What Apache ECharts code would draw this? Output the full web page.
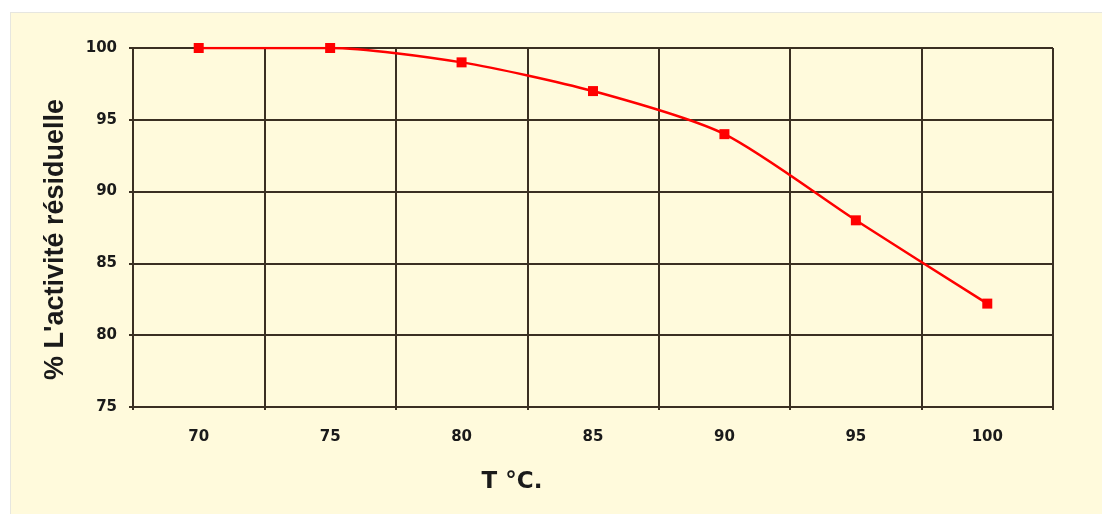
<!DOCTYPE html>
<html>
<head>
<meta charset="utf-8">
<script src="https://cdn.jsdelivr.net/npm/echarts@6/dist/echarts.min.js"></script>
<style>
  html, body { margin: 0; padding: 0; background: #ffffff; }
  #frame {
    position: absolute; left: 10px; top: 12px; width: 1092px; height: 502px;
    background: #fffadc; border-left: 1px solid #e6e6e0; border-top: 1px solid #e6e6e0;
    box-sizing: border-box;
  }
  #chart { position: absolute; left: 0; top: 0; width: 1102px; height: 518px; }
</style>
</head>
<body>
<div id="frame"></div>
<div id="chart"></div>
<script>
// température (°C) et activité résiduelle (%)
const temperatures = ['70', '75', '80', '85', '90', '95', '100'];
const activite = [100, 100, 99, 97, 94, 88, 82.2];

const chart = echarts.init(document.getElementById('chart'));

const gridColor = '#3a2f22';
const textColor = '#1a1a1a';

const option = {
  backgroundColor: 'transparent',
  animation: false,
  grid: { left: 133, right: 49, top: 48, bottom: 111 },
  xAxis: {
    type: 'category',
    data: temperatures,
    boundaryGap: true,
    name: 'T °C.',
    nameLocation: 'middle',
    nameGap: 64,
    nameTextStyle: {
      fontFamily: 'DejaVu Sans', fontWeight: 'bold', fontSize: 23, color: textColor,
      padding: [0, 162, 0, 0]
    },
    axisLine: { show: true, lineStyle: { color: gridColor, width: 2 } },
    axisTick: { show: true, length: 3, lineStyle: { color: gridColor, width: 2 } },
    axisLabel: {
      margin: 23, fontFamily: 'DejaVu Sans', fontWeight: 'bold', fontSize: 15, color: textColor
    },
    splitLine: { show: true, lineStyle: { color: gridColor, width: 2 } }
  },
  yAxis: {
    type: 'value',
    min: 75,
    max: 100,
    interval: 5,
    name: "% L'activité résiduelle",
    nameLocation: 'middle',
    nameGap: 64,
    nameRotate: 90,
    nameTextStyle: {
      fontFamily: 'Liberation Sans', fontWeight: 'bold', fontSize: 27, color: textColor,
      padding: [0, 24, 0, 0]
    },
    axisLine: { show: true, lineStyle: { color: gridColor, width: 2 } },
    axisTick: { show: true, length: 4, lineStyle: { color: gridColor, width: 2 } },
    axisLabel: {
      margin: 16, fontFamily: 'DejaVu Sans', fontWeight: 'bold', fontSize: 15, color: textColor
    },
    splitLine: { show: true, lineStyle: { color: gridColor, width: 2 } }
  },
  series: [{
    type: 'line',
    data: activite,
    smooth: 0.25,
    symbol: 'rect',
    symbolSize: 10,
    lineStyle: { color: '#ff0000', width: 2.5 },
    itemStyle: { color: '#ff0000' },
    z: 5
  }]
};

chart.setOption(option);
</script>
</body>
</html>
